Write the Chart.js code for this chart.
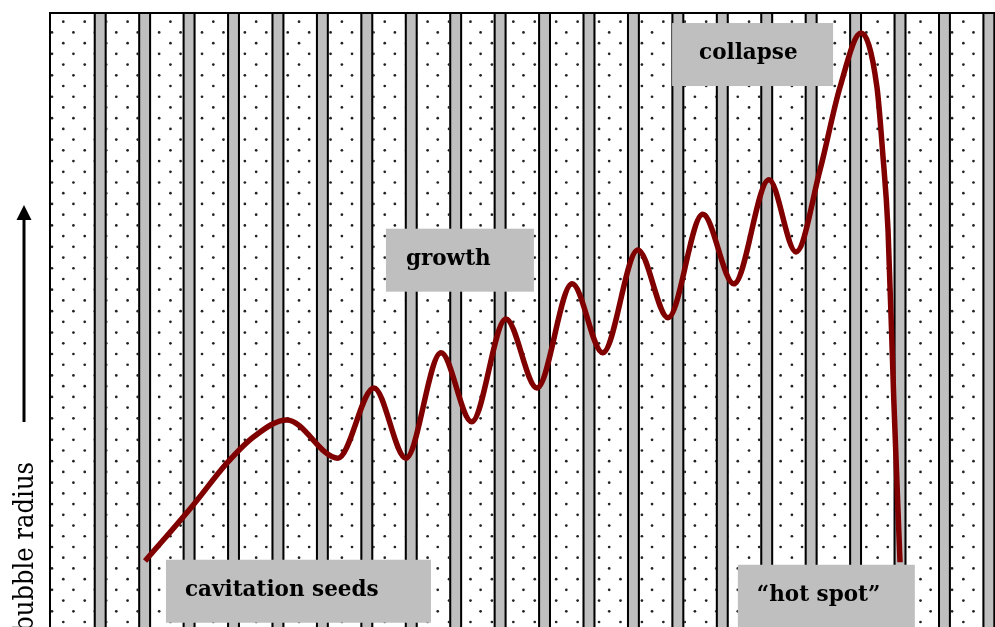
<!DOCTYPE html>
<html>
<head>
<meta charset="utf-8">
<title>Bubble radius</title>
<script src="https://cdn.jsdelivr.net/npm/chart.js@4.4.1/dist/chart.umd.min.js"></script>
<style>
    html, body {
        margin: 0;
        padding: 0;
        background: #fff;
        overflow: hidden;
    }
    #bubbleChart {
        display: block;
    }
</style>
</head>
<body>
<canvas id="bubbleChart" width="1000" height="640"></canvas>
<script>
// Bubble radius over acoustic cycles

// Acoustic cycle markers (grey bands)
const cycleMarks = [1, 2, 3, 4, 5, 6, 7, 8, 9, 10, 11, 12, 13, 14, 15, 16, 17, 18, 19, 20, 21];

// Bubble radius curve
const timeData = [2.01, 3.09, 3.85, 4.47, 5.20, 6.35, 7.16, 7.88, 8.67, 9.36, 10.13, 10.83,
    11.62, 12.31, 13.10, 13.78, 14.56, 15.26, 16.05, 16.66, 17.20, 17.65, 18.12,
    18.48, 18.61, 18.73, 18.86, 19.00];
const radiusData = [1.26, 2.15, 2.82, 3.25, 3.51, 2.90, 4.02, 2.90, 4.58, 3.48, 5.12, 4.02,
    5.68, 4.58, 6.22, 5.14, 6.79, 5.68, 7.34, 6.19, 7.50, 8.82, 9.68,
    8.82, 7.77, 6.54, 3.83, 1.24];

// Stage labels (box top-left corner in data units)
const labelTexts = ['cavitation seeds', 'growth', 'collapse', '\u201chot spot\u201d'];
const labelTimes = [2.48, 7.43, 13.87, 15.35];
const labelRadii = [1.28, 6.56, 9.84, 1.20];

const axisTitle = 'bubble radius';

// styling
const boxWidths = [265, 148, 161, 177];
const textInsets = [19, 20, 27, 19];
const BOX_HEIGHT = 63;
const BAND_HALF = 0.145;
const GREY = '#bfbfbf';

// Background: dots, grey bands and frame
const backgroundPlugin = {
    id: 'background',
    beforeDatasetsDraw(chart) {
        const { ctx, chartArea: a, scales: { x } } = chart;
        ctx.save();
        ctx.beginPath();
        ctx.rect(a.left, a.top, a.right - a.left, a.bottom - a.top);
        ctx.clip();
        ctx.fillStyle = '#fff';
        ctx.fillRect(a.left, a.top, a.right - a.left, a.bottom - a.top);

        // dotted hatch
        ctx.fillStyle = '#222';
        const dx = 21.43, dy = 10.72;
        let row = 0;
        for (let y = 21.7; y < a.bottom; y += dy, row++) {
            const x0 = row % 2 === 0 ? 63.3 : 52.0;
            for (let xx = x0 - dx * 3; xx < a.right; xx += dx) {
                if (xx < a.left + 1) continue;
                ctx.beginPath();
                ctx.arc(xx, y, 1.35, 0, Math.PI * 2);
                ctx.fill();
            }
        }

        // grey bands with black edges
        cycleMarks.forEach(t => {
            const l = x.getPixelForValue(t - BAND_HALF);
            const r = x.getPixelForValue(t + BAND_HALF);
            ctx.fillStyle = GREY;
            ctx.fillRect(l, a.top, r - l, a.bottom - a.top);
            ctx.strokeStyle = '#000';
            ctx.lineWidth = 2;
            ctx.beginPath();
            ctx.moveTo(l + 1, a.top);
            ctx.lineTo(l + 1, a.bottom);
            ctx.moveTo(r - 1, a.top);
            ctx.lineTo(r - 1, a.bottom);
            ctx.stroke();
        });
        ctx.restore();

        // frame (top and left visible)
        ctx.save();
        ctx.strokeStyle = '#000';
        ctx.lineWidth = 2;
        ctx.beginPath();
        ctx.moveTo(a.left, a.bottom);
        ctx.lineTo(a.left, a.top);
        ctx.lineTo(a.right, a.top);
        ctx.stroke();
        ctx.restore();
    }
};

// Stage labels in grey boxes
const labelPlugin = {
    id: 'stageLabels',
    afterDatasetsDraw(chart) {
        const { ctx, scales: { x, y } } = chart;
        ctx.save();
        ctx.font = 'bold 21.5px "DejaVu Serif"';
        ctx.textBaseline = 'alphabetic';
        ctx.textAlign = 'left';
        labelTexts.forEach((txt, i) => {
            const bx = x.getPixelForValue(labelTimes[i]);
            const by = y.getPixelForValue(labelRadii[i]);
            ctx.fillStyle = GREY;
            ctx.fillRect(bx, by, boxWidths[i], BOX_HEIGHT);
            ctx.fillStyle = '#000';
            ctx.fillText(txt, bx + textInsets[i], by + 36);
        });
        ctx.restore();
    }
};

// Rotated axis title with an upward arrow
const axisPlugin = {
    id: 'axisTitle',
    afterDraw(chart) {
        const { ctx } = chart;
        ctx.save();
        ctx.translate(33, 462);
        ctx.rotate(-Math.PI / 2);
        ctx.scale(0.9, 1);
        ctx.font = '27px "DejaVu Serif"';
        ctx.fillStyle = '#000';
        ctx.textAlign = 'right';
        ctx.textBaseline = 'alphabetic';
        ctx.fillText(axisTitle, 0, 0);
        ctx.restore();

        ctx.save();
        ctx.strokeStyle = '#000';
        ctx.fillStyle = '#000';
        ctx.lineWidth = 3;
        ctx.beginPath();
        ctx.moveTo(24, 422);
        ctx.lineTo(24, 218);
        ctx.stroke();
        ctx.beginPath();
        ctx.moveTo(24, 205);
        ctx.lineTo(31.5, 220);
        ctx.lineTo(16.5, 220);
        ctx.closePath();
        ctx.fill();
        ctx.restore();
    }
};

document.addEventListener('DOMContentLoaded', function() {
    const ctx = document.getElementById('bubbleChart');
    const points = timeData.map((t, i) => ({ x: t, y: radiusData[i] }));

    new Chart(ctx, {
        type: 'line',
        data: {
            datasets: [{
                label: 'bubble radius',
                data: points,
                borderColor: '#800000',
                borderWidth: 5.5,
                borderCapStyle: 'butt',
                cubicInterpolationMode: 'monotone',
                pointRadius: 0,
                fill: false
            }]
        },
        options: {
            responsive: false,
            animation: false,
            devicePixelRatio: 1,
            events: [],
            layout: {
                padding: { left: 50, top: 13, right: 0, bottom: 0 }
            },
            plugins: {
                legend: { display: false },
                tooltip: { enabled: false }
            },
            scales: {
                x: { type: 'linear', min: -0.13, max: 21.25, display: false },
                y: { min: 0, max: 10, display: false }
            }
        },
        plugins: [backgroundPlugin, labelPlugin, axisPlugin]
    });
});
</script>
</body>
</html>
